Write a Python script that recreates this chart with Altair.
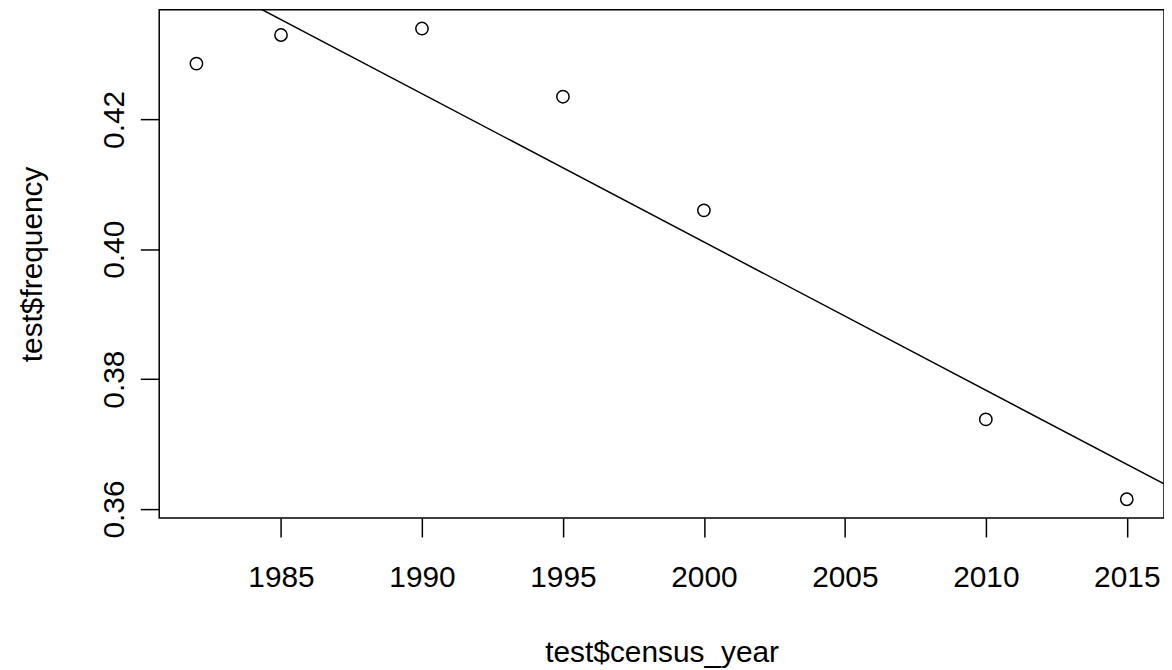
import altair as alt
import pandas as pd

years = [1982, 1985, 1990, 1995, 2000, 2010, 2015]
freq = [0.4286, 0.4330, 0.4340, 0.4235, 0.4060, 0.3738, 0.3615]
x_ticks = [1985, 1990, 1995, 2000, 2005, 2010, 2015]
y_ticks = [0.36, 0.38, 0.40, 0.42]

df = pd.DataFrame({"census_year": years, "frequency": freq})

xdom = [1980.68, 2016.32]
ydom = [0.3586, 0.4369]
FONT = "Liberation Sans"

xscale = alt.Scale(domain=xdom, nice=False, zero=False)
yscale = alt.Scale(domain=ydom, nice=False, zero=False)

xaxis = alt.Axis(values=x_ticks, format="d", title="test$census_year",
                 grid=False, domain=False, tickSize=19, tickWidth=1.5,
                 tickColor="black", labelFontSize=30, labelFont=FONT,
                 labelColor="black", labelBaseline="alphabetic", labelPadding=50,
                 labelFlush=False, labelOverlap=False,
                 titleFont=FONT, titleFontSize=30, titleFontWeight="normal",
                 titleColor="black", titleX=505, titleY=144,
                 titleBaseline="alphabetic", titleAlign="center")
yaxis = alt.Axis(values=y_ticks, format=".2f", title="test$frequency",
                 grid=False, domain=False, tickSize=19, tickWidth=1.5,
                 tickColor="black", labelFontSize=30, labelFont=FONT,
                 labelColor="black", labelAngle=270, labelAlign="center",
                 labelBaseline="alphabetic", labelPadding=17,
                 labelFlush=False, labelOverlap=False,
                 titleFont=FONT, titleFontSize=30, titleFontWeight="normal",
                 titleColor="black", titleAngle=270, titleX=-118, titleY=255.5,
                 titleBaseline="alphabetic", titleAlign="center")

base = alt.Chart(df)

points = base.mark_point(shape="circle", filled=False, size=154, strokeWidth=1.5,
                         color="black", opacity=1).encode(
    x=alt.X("census_year:Q", scale=xscale, axis=xaxis),
    y=alt.Y("frequency:Q", scale=yscale, axis=yaxis),
)

line = base.transform_regression("census_year", "frequency", extent=xdom).mark_line(
    color="black", strokeWidth=1.5, clip=True).encode(
    x=alt.X("census_year:Q", scale=xscale),
    y=alt.Y("frequency:Q", scale=yscale),
)

chart = alt.layer(line, points).properties(
    width=1010, height=511,
    autosize=alt.AutoSizeParams(type="none"),
    padding={"left": 152, "top": 0, "right": 0, "bottom": 151},
    background="white",
).configure_view(stroke="black", strokeWidth=1.5)

chart.save("out.html", embed_options={"renderer": "svg", "actions": False})
